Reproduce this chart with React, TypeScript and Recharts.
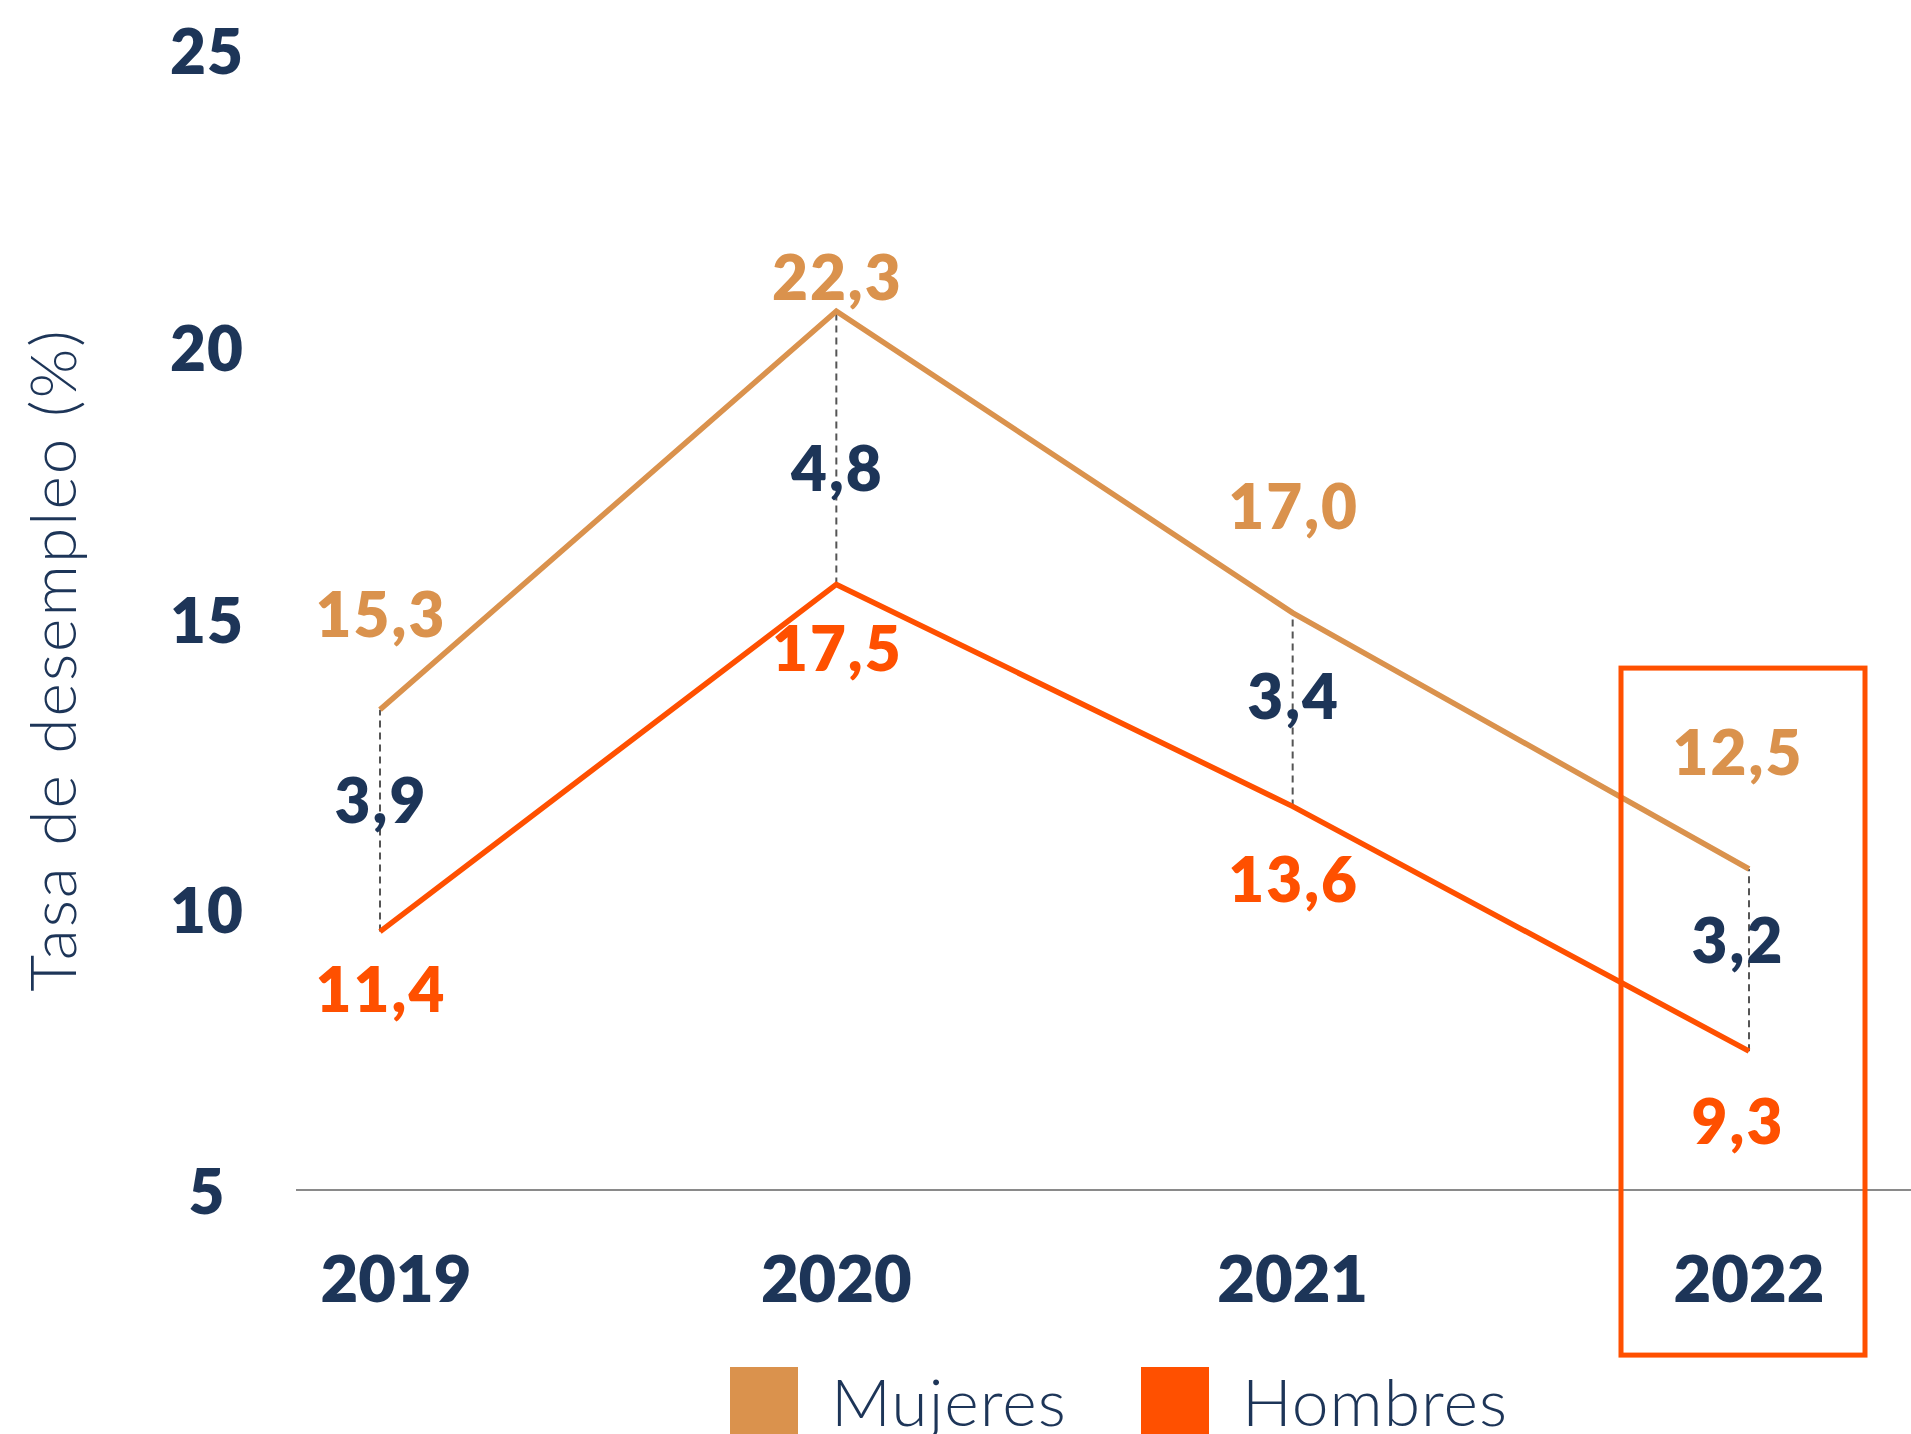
import React from 'react';
import { LineChart, Line, XAxis, YAxis, LabelList, ReferenceLine, ReferenceDot, Legend } from 'recharts';

// ---- data ----
const years = ['2019', '2020', '2021', '2022'];
const mujeres = [15.3, 22.3, 17.0, 12.5];
const hombres = [11.4, 17.5, 13.6, 9.3];
const seriesNames = ['Mujeres', 'Hombres'];
const yTickValues = [6.86, 11.8, 16.89, 21.67, 26.89];
const yTickLabels = ['5', '10', '15', '20', '25'];
const highlightYear = '2022';
const highlightTop = 16.03;

// ---- label placement (annotation offsets, px) ----
const mujeresLabelDy = [-97, -35, -108, -118];
const hombresLabelDy = [56, 63, 72, 69];
const gapLabelDy = [-22, 19, -15, -21];
const labelDx = [0, 0, 0, -12];
const xTickDx = [16, 0, 0, 0];

const NAVY = '#1D3558';
const TAN = '#DA924D';
const ORANGE = '#FF5000';
const FONT = 'Lato, sans-serif';

const data = years.map((y, i) => ({ year: y, mujeres: mujeres[i], hombres: hombres[i] }));
const fmt = (v: number) => v.toFixed(1).replace('.', ',');

const makeValueLabel = (color: string, dys: number[]) => (props: any) => {
  const { x, y, value, index } = props;
  return (
    <text
      x={Number(x) + labelDx[index] + 1}
      y={Number(y) + dys[index]}
      fill={color}
      textAnchor="middle"
      dominantBaseline="central"
      fontSize={62}
      fontWeight={800}
      fontFamily={FONT}
      letterSpacing={2}
    >
      {fmt(Number(value))}
    </text>
  );
};

const YTick = (props: any) => {
  const { x, y, payload } = props;
  const idx = yTickValues.indexOf(payload.value);
  return (
    <text x={x - 89} y={y} fill={NAVY} textAnchor="middle" dominantBaseline="central" fontSize={62} fontWeight={800} fontFamily={FONT} letterSpacing={1}>
      {yTickLabels[idx]}
    </text>
  );
};

const XTick = (props: any) => {
  const { x, y, payload, index } = props;
  const i = years.indexOf(payload.value);
  return (
    <text x={x + (xTickDx[i] || 0)} y={y + 87} fill={NAVY} textAnchor="middle" dominantBaseline="central" fontSize={65} fontWeight={800} fontFamily={FONT}>
      {payload.value}
    </text>
  );
};

const YTitle = (props: any) => {
  const vb = props.viewBox;
  const cx = vb.x + 51;
  const cy = vb.y + vb.height / 2 + 40;
  return (
    <text
      x={cx}
      y={cy}
      transform={`rotate(-90, ${cx}, ${cy})`}
      fill={NAVY}
      textAnchor="middle"
      dominantBaseline="central"
      fontSize={64}
      fontWeight={300}
      fontFamily={FONT}
      letterSpacing={2}
    >
      Tasa de desempleo (%)
    </text>
  );
};

const LegendContent = () => {
  const colors = [TAN, ORANGE];
  return (
    <svg width={900} height={67} style={{ overflow: 'visible', display: 'block' }}>
      {seriesNames.map((n, i) => (
        <g key={n} transform={`translate(${i * 411}, 0)`}>
          <rect x={0} y={0} width={68} height={68} fill={colors[i]} />
          <text x={101} y={59} fill={NAVY} fontSize={66} fontWeight={300} fontFamily={FONT} letterSpacing={1}>
            {n}
          </text>
        </g>
      ))}
    </svg>
  );
};

export default function App() {
  return (
    <div style={{ position: 'absolute', left: 0, top: 0, width: 1911, height: 1434, background: '#fff' }}>
      <LineChart width={1911} height={1434} data={data} margin={{ top: 50, right: 0, left: 0, bottom: 0 }}>
        <XAxis
          dataKey="year"
          height={244}
          padding={{ left: 84, right: 162 }}
          axisLine={{ stroke: '#8a8a8a', strokeWidth: 2 }}
          tickLine={false}
          tickSize={0}
          tickMargin={0}
          tick={<XTick />}
          interval={0}
        />
        <YAxis
          width={296}
          type="number"
          domain={[yTickValues[0], yTickValues[yTickValues.length - 1]]}
          ticks={yTickValues}
          axisLine={false}
          tickLine={false}
          tickSize={0}
          tickMargin={0}
          tick={<YTick />}
          interval={0}
          label={(p: any) => <YTitle {...p} />}
        />
        {years.map((yr, i) => (
          <ReferenceLine
            key={yr}
            segment={[{ x: yr, y: hombres[i] }, { x: yr, y: mujeres[i] }]}
            stroke="#555555"
            strokeWidth={2}
            strokeDasharray="7 5"
            label={(p: any) => {
              const vb = p.viewBox;
              return (
                <text
                  x={vb.x + (vb.width || 0) / 2 + labelDx[i] + 1}
                  y={vb.y + vb.height / 2 + gapLabelDy[i]}
                  fill={NAVY}
                  textAnchor="middle"
                  dominantBaseline="central"
                  fontSize={62}
                  fontWeight={800}
                  fontFamily={FONT}
                  letterSpacing={2}
                >
                  {fmt(mujeres[i] - hombres[i])}
                </text>
              );
            }}
          />
        ))}
        <Line type="linear" dataKey="mujeres" name={seriesNames[0]} stroke={TAN} strokeWidth={5.5} dot={false} isAnimationActive={false}>
          <LabelList dataKey="mujeres" content={makeValueLabel(TAN, mujeresLabelDy)} />
        </Line>
        <Line type="linear" dataKey="hombres" name={seriesNames[1]} stroke={ORANGE} strokeWidth={5.5} dot={false} isAnimationActive={false}>
          <LabelList dataKey="hombres" content={makeValueLabel(ORANGE, hombresLabelDy)} />
        </Line>
        <ReferenceDot
          x={highlightYear}
          y={highlightTop}
          r={0}
          ifOverflow="visible"
          shape={(p: any) => (
            <rect x={p.cx - 128} y={p.cy} width={244} height={687} fill="none" stroke={ORANGE} strokeWidth={5} />
          )}
        />
        <Legend
          verticalAlign="middle"
          align="center"
          wrapperStyle={{ position: 'absolute', top: 1367, left: 730, width: 900, height: 67 }}
          content={<LegendContent />}
        />
      </LineChart>
    </div>
  );
}
